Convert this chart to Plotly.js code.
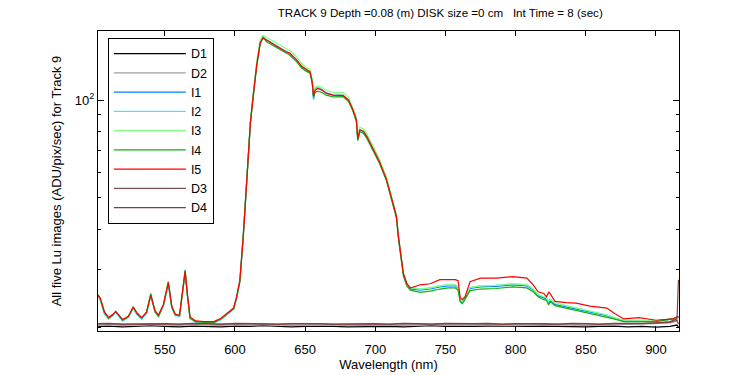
<!DOCTYPE html>
<html>
<head>
<meta charset="utf-8">
<script src="https://cdn.plot.ly/plotly-3.0.1.min.js"></script>
<style>html,body{margin:0;padding:0;background:#fff}#chart{width:750px;height:375px}</style>
</head>
<body>
<div id="chart"></div>
<script>
// Wavelengths (nm) for the illuminated images
var wl = [502.5,504,507,510,513,515,518,520,524,527.5,
530,533.5,537,540,543,545.5,549,552.5,555,557.5,
560.5,563,564.5,566,568,572,578,585,590,594,
599,601,603.5,606,608.5,611,613,615.5,618,620,
622.5,627,632,636,639,644,647.5,651,653.5,655,
656,657,659,662,665,670,677,681,684,686.5,
687.5,689,691.5,694,696.5,699,703,708,712,715,
716.5,718,720,722.5,725,732,739,746,752,757,
759,760.5,762,764,767.5,775,786,798,808,812.5,
816,820,822,823.5,824.5,828,836,843,853,865,
870,877,888,900,912,916];

var I1 = [25.0,24.3,22.0,21.2,21.8,22.3,21.5,20.9,21.5,22.9,
22.0,21.2,22.1,25.0,22.3,21.6,23.3,27.2,23.0,21.8,
21.6,26.9,29.5,25.3,21.3,20.7,20.6,20.6,21.1,21.8,
22.7,24.4,27.7,38.6,58.3,85.3,103.8,129.5,151.5,156.5,
153,149,144.8,141.2,138.8,132.3,126.5,123.3,122.2,114.5,
100.5,108.3,109.2,107.5,105,103.5,103.2,99.6,93.2,86.7,
75.5,80.7,80.2,77.2,73.2,70.2,64.5,56.8,48.8,43.8,
37.8,33.6,28.9,26.9,26.2,26.0,26.2,26.6,26.8,26.8,
26.4,24.0,23.8,24.7,26.3,26.6,26.7,27.0,26.8,26.0,
25.0,24.6,24.4,23.6,24.2,23.5,23.1,22.7,22.2,21.7,
21.3,20.9,20.9,20.9,21.2,21.5];

var I2 = [24.9,24.2,22.0,21.2,21.7,22.2,21.4,20.9,21.4,22.8,
21.9,21.2,22.0,24.9,22.2,21.5,23.2,27.1,22.9,21.7,
21.6,26.8,29.4,25.2,21.2,20.7,20.6,20.6,21.1,21.8,
22.7,24.3,27.5,38.3,58,85,103.5,129,151,156,
153.5,149.5,145,141.5,139,132.5,127,123.5,122.5,115,
101,108,109.5,107.8,105.2,103.8,103.5,100,93.5,87,
76,81,80.5,77.5,73.5,70.5,64.8,57,49,44,
38,33.8,29.0,27.0,26.4,26.2,26.4,26.8,27.0,27.0,
26.6,24.1,23.9,24.9,26.5,26.8,26.9,27.2,27.0,26.2,
25.2,24.8,24.6,23.8,24.4,23.7,23.3,22.9,22.4,21.8,
21.4,21.0,21.0,20.9,21.2,21.5];

var I3 = [25.1,24.5,22.2,21.3,21.9,22.4,21.6,21.0,21.6,23.0,
22.1,21.3,22.2,25.2,22.4,21.7,23.4,27.5,23.1,21.9,
21.7,27.1,29.8,25.4,21.4,20.8,20.7,20.7,21.2,21.9,
22.8,24.5,27.8,39.2,59.5,87,105.5,131,153.5,158,
156,152,147.5,144,142,135.5,129.5,125.5,124.5,116,
104,109.5,110.5,109.5,107,105.5,105.5,102,95,88.5,
77.5,82.5,81.5,78.7,74.8,71.6,65.6,57.8,49.6,44.4,
38.3,34.0,29.2,27.1,26.5,26.2,26.4,26.8,27.0,27.0,
26.6,24.2,24.0,24.9,26.5,26.8,26.9,27.2,27.0,26.2,
25.2,24.8,24.6,23.9,24.4,23.7,23.3,22.9,22.4,21.8,
21.4,21.0,21.0,20.9,21.2,21.5];

var I4 = [25.2,24.4,22.1,21.3,21.8,22.4,21.5,21.0,21.5,23.1,
22.0,21.3,22.3,25.4,22.3,21.6,23.4,27.6,23.0,21.8,
21.7,27.4,30.0,25.3,21.3,20.8,20.7,20.7,21.2,21.9,
22.8,24.5,27.6,38.9,58.5,85.5,102,127,149,156,
151,147,142.5,140,137.5,131,125.5,122.5,121,113,
102,105.5,106.5,105.5,103.5,102.3,102.5,99,92.5,86,
75,80,79,76.2,72.5,69.5,63.8,56.3,48.5,43.5,
37.5,33.2,28.8,26.8,26.0,25.6,25.8,26.2,26.4,26.4,
26.0,24.0,23.6,24.4,25.9,26.2,26.3,26.6,26.4,25.7,
24.8,24.3,24.2,23.4,24.0,23.3,22.9,22.5,22.0,21.5,
21.2,20.8,20.8,20.8,21.2,21.5];

var I5 = [25.0,24.6,22.3,21.4,21.9,22.3,21.6,21.1,21.6,23.0,
22.2,21.4,22.2,25.1,22.5,21.8,23.5,27.4,23.2,21.9,
21.8,27.0,29.7,25.5,21.5,20.9,20.8,20.8,21.3,22.0,
22.9,24.6,27.9,38.5,58,85,103,128,150,155,
153,149,144.5,141,139.5,133,127,124,122,114,
103,107,108.6,107.3,105,103.6,103.3,100,93.5,87,
76,81,80,77.2,73.5,70.5,64.6,57,49,44,
38,33.8,29.3,27.2,26.4,27.0,27.2,28.0,28.0,28.0,
27.8,24.6,24.3,24.8,27.6,28.3,28.3,28.6,28.3,27.0,
25.7,25.4,24.8,25.6,25.4,24.0,23.8,23.7,23.2,22.9,
22.1,21.2,21.4,21.0,21.2,21.6];

// Wavelengths (nm) for the dark images
var wlDark = [502.5,510,520,530,540,550,560,570,580,590,
600,610,620,630,640,650,660,670,680,690,
700,710,720,730,740,750,760,770,780,790,
800,810,820,830,840,850,860,870,880,890,
900,910,915,916];

var D1 = [20.1,20.15,20.05,20.1,20.2,20.1,20.05,20.15,20.1,20.05,
20.15,20.1,20.2,20.1,20.05,20.1,20.15,20.1,20.05,20.1,
20.15,20.1,20.05,20.1,20.2,20.1,20.05,20.1,20.15,20.1,
20.05,20.1,20.15,20.1,20.1,20.05,20.1,20.15,20.05,20.1,
20.0,20.1,20.3,20.0];
var D2 = [20.3,20.35,20.25,20.3,20.4,20.3,20.25,20.35,20.3,20.25,
20.35,20.3,20.4,20.3,20.25,20.3,20.35,20.3,20.25,20.3,
20.35,20.3,20.25,20.3,20.4,20.3,20.25,20.3,20.35,20.3,
20.25,20.3,20.35,20.3,20.3,20.25,20.3,20.35,20.3,20.4,
20.5,20.6,20.9,20.4];
var D3 = [20.45,20.5,20.4,20.45,20.5,20.45,20.4,20.5,20.45,20.4,
20.5,20.45,20.5,20.4,20.45,20.5,20.45,20.4,20.45,20.5,
20.45,20.4,20.5,20.45,20.4,20.5,20.45,20.45,20.5,20.4,
20.45,20.5,20.45,20.4,20.5,20.45,20.4,20.5,20.45,20.5,
20.6,20.7,21.0,20.5];
var D4 = [20.5,20.55,20.45,20.5,20.55,20.5,20.45,20.55,20.5,20.45,
20.55,20.5,20.55,20.45,20.5,20.55,20.5,20.45,20.5,20.55,
20.5,20.45,20.55,20.5,20.45,20.55,20.5,20.5,20.55,20.45,
20.5,20.55,20.5,20.45,20.55,20.5,20.45,20.55,20.5,20.55,
20.6,20.8,21.2,28.0];

var seriesNames = ['D1','D2','I1','I2','I3','I4','I5','D3','D4'];
var seriesColors = ['#000000','#a0a0a0','#0080ff','#40e8ff','#80ff80','#10b010','#ff0000','#805050','#804040'];
var seriesX = [wlDark,wlDark,wl,wl,wl,wl,wl,wlDark,wlDark];
var seriesY = [D1,D2,I1,I2,I3,I4,I5,D3,D4];

var xTicks = [550,600,650,700,750,800,850,900];
var yMajor = [100];
var yMajorText = ['10<sup>2</sup>'];
var yMinor = [20,30,40,50,60,70,80,90];

var font = 'Liberation Sans, Arial, Helvetica, sans-serif';
var traces = seriesNames.map(function(n,i){
  return {x: seriesX[i], y: seriesY[i], name: n, type: 'scatter', mode: 'lines',
    line: {color: seriesColors[i], width: 1.2}};
});

var layout = {
  width: 750, height: 375,
  margin: {l: 98, r: 71, t: 31, b: 44},
  paper_bgcolor: '#fff', plot_bgcolor: '#fff',
  font: {family: font, size: 13, color: '#000'},
  title: {text: 'TRACK 9 Depth =0.08 (m) DISK size =0 cm\u00a0\u00a0\u00a0Int Time = 8 (sec)',
    x: 0.587, xanchor: 'center', y: 0.965, yanchor: 'middle', font: {family: font, size: 11.6}},
  showlegend: true,
  legend: {x: 0.017, y: 0.977, xanchor: 'left', yanchor: 'top', bgcolor: '#fff',
    bordercolor: '#000', borderwidth: 1, font: {family: font, size: 12.5}, itemwidth: 72,
    tracegroupgap: 0},
  xaxis: {range: [502.4, 916.4], tickvals: xTicks, ticks: 'inside', ticklen: 5,
    tickcolor: '#000', showline: true, linecolor: '#000', linewidth: 1, mirror: 'ticks',
    showgrid: false, zeroline: false, tickfont: {family: font, size: 13}, ticklabelstandoff: 6,
    title: {text: 'Wavelength (nm)', font: {family: font, size: 13}, standoff: 4}},
  yaxis: {type: 'log', range: [Math.log10(19.46), Math.log10(163.1)], tickvals: yMajor,
    ticktext: yMajorText, ticks: 'inside', ticklen: 6, tickcolor: '#000',
    showline: true, linecolor: '#000', linewidth: 1, mirror: 'ticks', showgrid: false,
    zeroline: false, tickfont: {family: font, size: 13},
    minor: {tickvals: yMinor, ticks: 'inside', ticklen: 3, tickcolor: '#000', showgrid: false},
    title: {text: 'All five Lu images (ADU/pix/sec) for Track 9', font: {family: font, size: 13}, standoff: 10}}
};
Plotly.newPlot('chart', traces, layout, {staticPlot: true, displayModeBar: false});
</script>
</body>
</html>
